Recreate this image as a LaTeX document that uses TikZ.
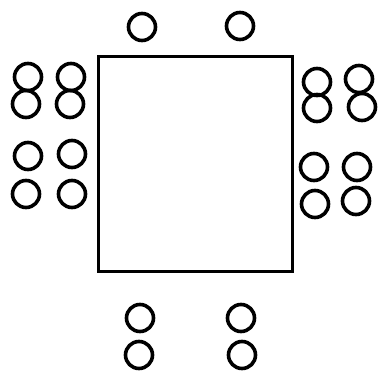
\documentclass[tikz,border=0pt]{standalone}
\begin{document}
\begin{tikzpicture}[x=1pt,y=-1pt,
  seat/.style={circle,draw=black,line width=3.6pt,minimum size=27pt,inner sep=0pt},
  tablebox/.style={rectangle,draw=black,line width=3.2pt,minimum width=194pt,minimum height=215pt,inner sep=0pt}]
\useasboundingbox (0,0) rectangle (379,371);
\node[tablebox] (table) at (195.5,164) {};
% top
\node[seat] (t1) at (142,27) {};
\node[seat] (t2) at (240,26) {};
% left outer column
\node[seat] (la1) at (28,77) {};
\node[seat] (la2) at (26,104) {};
\node[seat] (la3) at (28,156) {};
\node[seat] (la4) at (26,194) {};
% left inner column
\node[seat] (lb1) at (71,77) {};
\node[seat] (lb2) at (70,104) {};
\node[seat] (lb3) at (72,154) {};
\node[seat] (lb4) at (72,194) {};
% right inner column
\node[seat] (ra1) at (317,82) {};
\node[seat] (ra2) at (317,108) {};
\node[seat] (ra3) at (314,167) {};
\node[seat] (ra4) at (315,204) {};
% right outer column
\node[seat] (rb1) at (359,79) {};
\node[seat] (rb2) at (362,107) {};
\node[seat] (rb3) at (357,167) {};
\node[seat] (rb4) at (356,201) {};
% bottom
\node[seat] (b1) at (140,318) {};
\node[seat] (b2) at (139,355) {};
\node[seat] (b3) at (241,318) {};
\node[seat] (b4) at (242,355) {};
\end{tikzpicture}
\end{document}
